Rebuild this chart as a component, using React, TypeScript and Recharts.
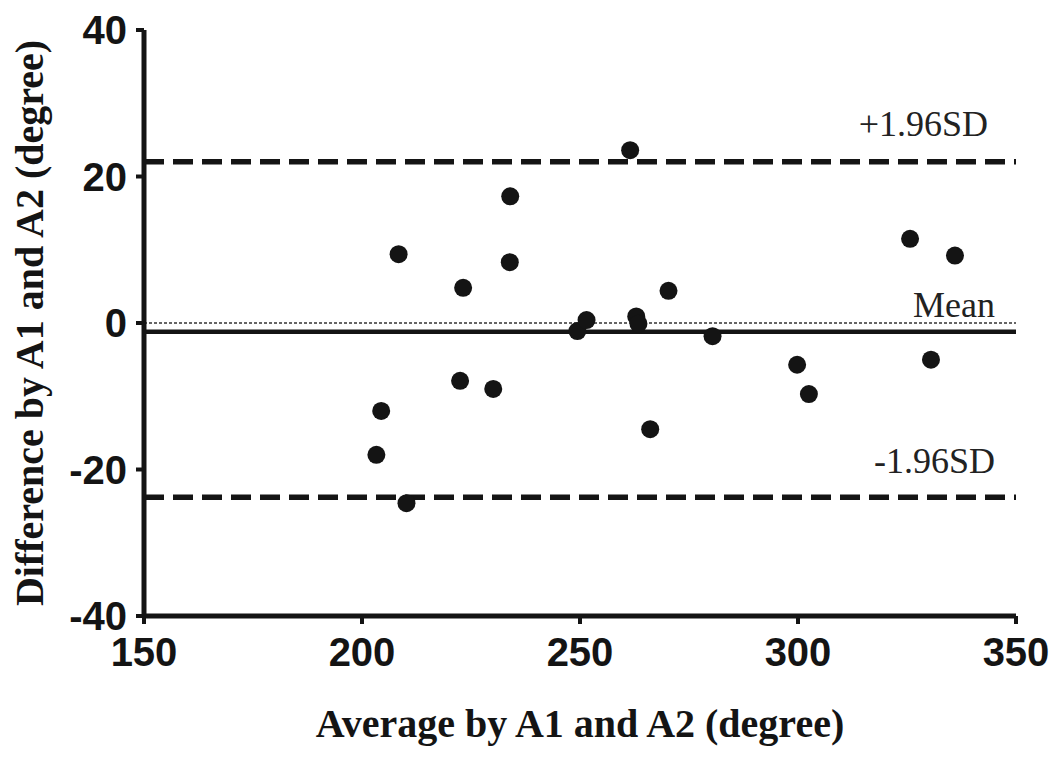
import React from "react";
import {
  ScatterChart,
  Scatter,
  XAxis,
  YAxis,
  ReferenceLine,
  Label,
} from "recharts";

// Bland-Altman: average of A1/A2 vs their difference
const avgValues = [
  203.3, 204.4, 208.4, 210.2, 222.5, 223.2, 230.1, 234.0, 233.9, 249.4, 251.5,
  261.5, 262.9, 263.4, 266.1, 270.3, 280.4, 299.8, 302.5, 325.7, 330.5, 336.0,
];
const diffValues = [
  -18.0, -12.0, 9.4, -24.6, -7.9, 4.8, -9.0, 17.3, 8.3, -1.1, 0.4, 23.6, 0.9,
  -0.1, -14.5, 4.4, -1.8, -5.7, -9.7, 11.5, -5.0, 9.2,
];
const xTicks = [150, 200, 250, 300, 350];
const yTicks = [-40, -20, 0, 20, 40];
const meanDiff = -1.2;
const upperLimit = 22.0;
const lowerLimit = -23.8;

const INK = "#141414";
const tickFont = {
  fontFamily: "'Liberation Sans', Arial, sans-serif",
  fontWeight: 700,
  fontSize: 40,
  fill: INK,
};
const titleFont = {
  fontFamily: "'Liberation Serif', 'Times New Roman', serif",
  fontWeight: 700,
  fontSize: 40,
  fill: INK,
};

const RefLabel = (props: any) => {
  const { viewBox, text, right, up } = props;
  if (!viewBox) return null;
  return (
    <text
      x={viewBox.x + viewBox.width - right}
      y={viewBox.y - up}
      textAnchor="end"
      fontFamily="'Liberation Serif', 'Times New Roman', serif"
      fontSize={36}
      fill="#222"
    >
      {text}
    </text>
  );
};

const Dot = (props: any) => (
  <circle cx={props.cx} cy={props.cy} r={9} fill={INK} />
);

export default function App() {
  const points = avgValues.map((x, i) => ({ avg: x, diff: diffValues[i] }));

  return (
    <div style={{ position: "absolute", left: 0, top: 0, background: "#fff" }}>
      <ScatterChart
        width={1063}
        height={760}
        margin={{ top: 30, right: 47, bottom: 0, left: 0 }}
      >
        <XAxis
          type="number"
          dataKey="avg"
          domain={[150, 350]}
          ticks={xTicks}
          height={144}
          axisLine={{ stroke: INK, strokeWidth: 5 }}
          tickLine={{ stroke: INK, strokeWidth: 4 }}
          tickSize={8}
          tickMargin={14}
          tick={tickFont}
        >
          <Label
            value="Average by A1 and A2 (degree)"
            position="insideBottom"
            offset={23}
            style={titleFont}
          />
        </XAxis>
        <YAxis
          type="number"
          dataKey="diff"
          domain={[-40, 40]}
          ticks={yTicks}
          width={144}
          axisLine={{ stroke: INK, strokeWidth: 5 }}
          tickLine={{ stroke: INK, strokeWidth: 4 }}
          tickSize={8}
          tickMargin={9}
          tick={tickFont}
        >
          <Label
            value="Difference by A1 and A2 (degree)"
            angle={-90}
            position="insideLeft"
            offset={29}
            style={{ ...titleFont, textAnchor: "middle" }}
          />
        </YAxis>
        <ReferenceLine
          y={0}
          stroke="#333"
          strokeWidth={1.5}
          strokeDasharray="3 2"
        />
        <ReferenceLine
          y={meanDiff}
          stroke={INK}
          strokeWidth={4.5}
          label={<RefLabel text="Mean" right={21} up={15} />}
        />
        <ReferenceLine
          y={upperLimit}
          stroke={INK}
          strokeWidth={5.5}
          strokeDasharray="20 9"
          label={<RefLabel text="+1.96SD" right={28} up={26} />}
        />
        <ReferenceLine
          y={lowerLimit}
          stroke={INK}
          strokeWidth={5.5}
          strokeDasharray="20 9"
          label={<RefLabel text="-1.96SD" right={21} up={24} />}
        />
        <Scatter
          data={points}
          shape={<Dot />}
          isAnimationActive={false}
        />
      </ScatterChart>
    </div>
  );
}
